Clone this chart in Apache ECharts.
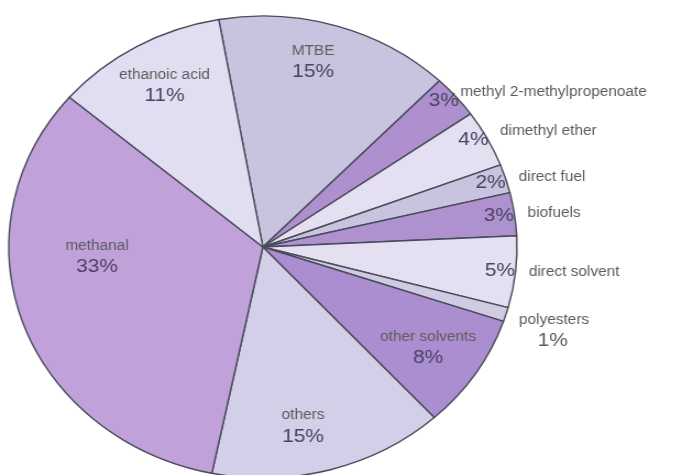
<!DOCTYPE html>
<html><head><meta charset="utf-8">
<script src="https://cdn.jsdelivr.net/npm/echarts@6/dist/echarts.min.js"></script>
<style>
html,body{margin:0;padding:0;background:#fff;overflow:hidden}
#wrap{width:677px;height:475px;overflow:hidden}
#chart{width:615px;height:475px;transform:scaleX(1.1);transform-origin:0 0}
</style>
</head><body><div id="wrap"><div id="chart"></div></div>
<script>
// Categories in clockwise order, starting just right of 12 o'clock
const categories = ['MTBE','methyl 2-methylpropenoate','dimethyl ether','direct fuel','biofuels','direct solvent','polyesters','other solvents','others','methanal','ethanoic acid'];
const shares = [15,3,4,2,3,5,1,8,15,33,11];
const sliceColors = ['#c8c3de','#ad90cd','#e4e0f2','#c8c3de','#ae91cf','#e4e0f2','#cfcbe3','#ab8ecf','#d3cfe8','#c0a1da','#e2def2'];

// label groups
const labelFar = ['MTBE','ethanoic acid','others'];
const labelNear = ['methanal','other solvents'];
const labelEdgePct = ['methyl 2-methylpropenoate','dimethyl ether','direct fuel','biofuels','direct solvent'];
const labelOutside = ['methyl 2-methylpropenoate','dimethyl ether','direct fuel','biofuels','direct solvent','polyesters'];
const shortLeader = ['methyl 2-methylpropenoate'];

// label nudges (padding: top, right, bottom, left)
const labelPadding = {
  'MTBE':[0,20,6,0],
  'ethanoic acid':[8,0,0,10],
  'others':[0,28,8,0],
  'methanal':[0,12,80,0],
  'other solvents':[34,0,0,44],
  'methyl 2-methylpropenoate':[0,0,10,0],
  'dimethyl ether':[0,0,12,0],
  'polyesters':[30,0,0,0]
};

const R = 231;
const CENTER = [239, 247];
const nameColor = '#5c5c5c';
const pctColor = '#4a4262';
const FONT = 'Liberation Sans, Arial, sans-serif';
const rich = {
  n:{fontSize:14, color:nameColor, fontFamily:FONT, lineHeight:20},
  p:{fontSize:19, color:pctColor, fontFamily:FONT, lineHeight:22},
  p2:{fontSize:19, color:'#5c5c5c', fontFamily:FONT, lineHeight:22, padding:[0,0,0,17]}
};
const pad = c => labelPadding[c] || 0;

function overlay(r0, names, formatter){
  return {
    type:'pie', center:CENTER, radius:[r0, R], startAngle:100, clockwise:true,
    silent:true, avoidLabelOverlap:false, emphasis:{disabled:true},
    itemStyle:{color:'rgba(0,0,0,0)', borderWidth:0},
    label:{show:true, position:'inside', formatter:formatter, rich:rich},
    labelLine:{show:false},
    data:categories.map((c,i)=>({name:c, value:shares[i], label:{show:names.includes(c), padding:pad(c)}}))
  };
}

const chart = echarts.init(document.getElementById('chart'), null, {renderer:'canvas'});
chart.setOption({
  animation:false,
  backgroundColor:'#ffffff',
  series:[
    {
      type:'pie', center:CENTER, radius:R, startAngle:100, clockwise:true,
      silent:true, emphasis:{disabled:true},
      label:{show:false}, labelLine:{show:false},
      itemStyle:{borderColor:'#4a4b5c', borderWidth:1.4},
      data:categories.map((c,i)=>({name:c, value:shares[i], itemStyle:{color:sliceColors[i]}}))
    },
    overlay(R*0.62, labelFar, p=>'{n|'+p.name+'}\n{p|'+p.value+'%}'),
    overlay(R*0.3, labelNear, p=>'{n|'+p.name+'}\n{p|'+p.value+'%}'),
    overlay(R*0.85, labelEdgePct, p=>'{p|'+p.value+'%}'),
    {
      type:'pie', center:CENTER, radius:R, startAngle:100, clockwise:true,
      silent:true, avoidLabelOverlap:false, emphasis:{disabled:true},
      itemStyle:{color:'rgba(0,0,0,0)', borderWidth:0},
      label:{show:true, position:'outside', distanceToLabelLine:4, rich:rich,
        formatter:p=> p.name==='polyesters' ? '{n|'+p.name+'}\n{p2|'+p.value+'%}' : '{n|'+p.name+'}'},
      labelLine:{show:false, length:4, length2:4},
      data:categories.map((c,i)=>({name:c, value:shares[i],
        label:{show:labelOutside.includes(c), padding:pad(c)},
        labelLine: shortLeader.includes(c) ? {show:false, length:0, length2:0} : undefined}))
    }
  ]
});
</script>
</body></html>
